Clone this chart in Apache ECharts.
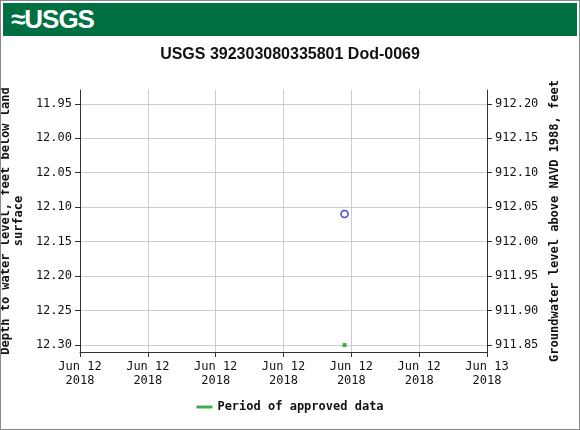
<!DOCTYPE html>
<html>
<head>
<meta charset="UTF-8">
<script src="https://cdn.jsdelivr.net/npm/echarts@6/dist/echarts.min.js"></script>
<style>
body{margin:0;background:#fff}
#wrap{position:relative;width:580px;height:430px}
#hdr{position:absolute;left:3px;top:3px;width:574px;height:33px;background:#006f41;color:#fff;font:bold 26px "Liberation Sans",Arial,sans-serif;line-height:33px;padding-left:8px;box-sizing:border-box;letter-spacing:-1px}
#main{position:absolute;left:0;top:0;width:580px;height:430px}
#frame{position:absolute;left:0;top:0;width:578px;height:428px;border:1px solid #888}
</style>
</head>
<body>
<div id="wrap">
<div id="main"></div>
<div id="hdr">&#8776;USGS</div>
<div id="frame"></div>
</div>
<script>
var title = 'USGS 392303080335801 Dod-0069';
var depthTicks = [11.95, 12.00, 12.05, 12.10, 12.15, 12.20, 12.25, 12.30];
var elevTicks = [912.20, 912.15, 912.10, 912.05, 912.00, 911.95, 911.90, 911.85];
var datum = 924.15;
var points = [['2018-06-12T15:36:00', 12.11]];
var approved = [['2018-06-12T15:36:00', 12.30]];
var xStart = '2018-06-12T00:00:00', xEnd = '2018-06-13T00:00:00';

var mono = 'DejaVu Sans Mono';
var chart = echarts.init(document.getElementById('main'));
var fmtX = function (v) {
  var d = new Date(v);
  var m = ['Jan','Feb','Mar','Apr','May','Jun','Jul','Aug','Sep','Oct','Nov','Dec'][d.getMonth()];
  return m + ' ' + d.getDate() + '\n' + d.getFullYear();
};
chart.setOption({
  animation: false,
  title: {text: title, left: 'center', top: 42,
    textStyle: {fontFamily: 'Liberation Sans', fontWeight: 'bold', fontSize: 16, color: '#111'}},
  grid: {left: 80, right: 93, top: 90, bottom: 78, outerBoundsMode: 'none'},
  legend: {bottom: 12, left: 'center', itemWidth: 16, itemHeight: 3, data: [{name: 'Period of approved data', icon: 'rect'}],
    textStyle: {fontFamily: mono, fontSize: 12, fontWeight: 'bold', color: '#111'}},
  xAxis: {type: 'time', min: xStart, max: xEnd, interval: 4 * 3600 * 1000,
    axisLine: {lineStyle: {color: '#333'}}, axisTick: {show: true, length: 5, lineStyle: {color: '#333'}},
    splitLine: {show: true, lineStyle: {color: '#ccc'}},
    axisLabel: {formatter: fmtX, fontFamily: mono, fontSize: 12, color: '#111', lineHeight: 14, margin: 8, hideOverlap: false, showMinLabel: true, showMaxLabel: true}},
  yAxis: [
    {type: 'value', inverse: true, min: 11.93, max: 12.31,
      name: 'Depth to water level, feet below land\nsurface', nameLocation: 'middle', nameGap: 50,
      nameTextStyle: {fontFamily: mono, fontSize: 12, fontWeight: 'bold', color: '#111', lineHeight: 13},
      axisLine: {show: true, lineStyle: {color: '#333'}},
      axisTick: {show: true, length: 5, customValues: depthTicks, lineStyle: {color: '#333'}},
      splitLine: {show: true, lineStyle: {color: '#ccc'}},
      axisLabel: {customValues: depthTicks, formatter: function (v) { return v.toFixed(2); },
        fontFamily: mono, fontSize: 12, color: '#111'}},
    {type: 'value', inverse: false, min: datum - 12.31, max: datum - 11.93,
      name: 'Groundwater level above NAVD 1988, feet', nameLocation: 'middle', nameGap: 62, nameRotate: 90,
      nameTextStyle: {fontFamily: mono, fontSize: 12, fontWeight: 'bold', color: '#111'},
      axisLine: {show: true, lineStyle: {color: '#333'}},
      axisTick: {show: true, length: 5, customValues: elevTicks, lineStyle: {color: '#333'}},
      splitLine: {show: false},
      axisLabel: {customValues: elevTicks, formatter: function (v) { return v.toFixed(2); },
        fontFamily: mono, fontSize: 12, color: '#111'}}
  ],
  series: [
    {type: 'scatter', data: points, symbol: 'circle', symbolSize: 7,
      itemStyle: {color: 'rgba(0,0,0,0)', borderColor: '#1a1acc', borderWidth: 1.5}},
    {name: 'Period of approved data', type: 'scatter', data: approved, symbol: 'rect', symbolSize: 4,
      itemStyle: {color: '#0a9c1e'}}
  ]
});
</script>
</body>
</html>
